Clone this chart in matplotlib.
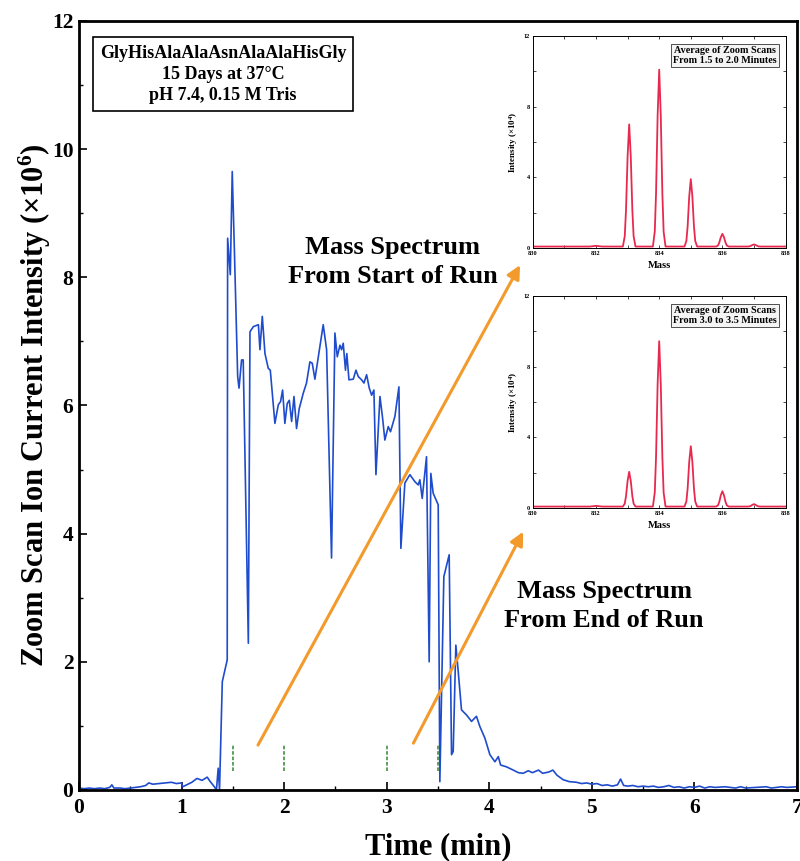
import matplotlib
matplotlib.use('Agg')
import matplotlib.pyplot as plt
from matplotlib.ticker import MultipleLocator

plt.rcParams['font.family'] = ['Liberation Serif', 'DejaVu Serif']
plt.rcParams['font.weight'] = 'bold'
plt.rcParams['mathtext.fontset'] = 'custom'
plt.rcParams['mathtext.rm'] = 'Liberation Serif:bold'
plt.rcParams['mathtext.bf'] = 'Liberation Serif:bold'
plt.rcParams['mathtext.default'] = 'bf'

# zoom scan total ion current vs time
time_min = [0.0, 0.05, 0.1, 0.15, 0.2, 0.25, 0.3, 0.32, 0.34, 0.4,
            0.45, 0.5, 0.55, 0.6, 0.65, 0.68, 0.72, 0.78, 0.85, 0.9,
            0.95, 1.0, 1.01, 1.05, 1.1, 1.15, 1.2, 1.25, 1.28, 1.32,
            1.34, 1.357, 1.37, 1.397, 1.445, 1.449, 1.475, 1.494, 1.514, 1.547,
            1.56, 1.585, 1.601, 1.651, 1.667, 1.7, 1.749, 1.764, 1.787, 1.813,
            1.845, 1.865, 1.91, 1.943, 1.965, 1.985, 2.007, 2.03, 2.05, 2.073,
            2.096, 2.121, 2.147, 2.186, 2.218, 2.251, 2.274, 2.3, 2.333, 2.381,
            2.414, 2.462, 2.495, 2.518, 2.544, 2.56, 2.576, 2.598, 2.611, 2.632,
            2.674, 2.7, 2.723, 2.755, 2.778, 2.804, 2.83, 2.853, 2.875, 2.895,
            2.934, 2.96, 2.982, 3.015, 3.037, 3.08, 3.119, 3.138, 3.177, 3.226,
            3.275, 3.307, 3.323, 3.346, 3.388, 3.414, 3.43, 3.453, 3.502, 3.518,
            3.557, 3.609, 3.632, 3.648, 3.674, 3.696, 3.729, 3.778, 3.827, 3.875,
            3.908, 3.957, 4.006, 4.055, 4.088, 4.11, 4.169, 4.234, 4.283, 4.33,
            4.38, 4.42, 4.48, 4.52, 4.58, 4.62, 4.66, 4.72, 4.78, 4.85,
            4.9, 4.95, 5.0, 5.05, 5.1, 5.15, 5.2, 5.25, 5.28, 5.31,
            5.35, 5.4, 5.45, 5.5, 5.55, 5.6, 5.65, 5.7, 5.75, 5.8,
            5.85, 5.9, 5.95, 6.0, 6.05, 6.1, 6.15, 6.2, 6.3, 6.4,
            6.45, 6.5, 6.6, 6.7, 6.75, 6.85, 6.9, 7.0]
ion_current = [0.03, 0.02, 0.03, 0.02, 0.03, 0.02, 0.04, 0.08, 0.03, 0.03,
               0.02, 0.03, 0.04, 0.05, 0.07, 0.11, 0.09, 0.1, 0.11, 0.12,
               0.1, 0.11, 0.05, 0.08, 0.12, 0.18, 0.15, 0.2, 0.13, 0.05,
               0.0, 0.34, 0.0, 1.69, 2.03, 8.61, 8.04, 9.65, 8.48, 6.45,
               6.27, 6.71, 6.71, 2.29, 7.15, 7.23, 7.26, 6.87, 7.39, 6.81,
               6.58, 6.55, 5.72, 6.01, 6.06, 6.24, 5.72, 6.03, 6.08, 5.75,
               6.14, 5.64, 5.95, 6.19, 6.35, 6.68, 6.66, 6.41, 6.76, 7.26,
               6.87, 3.62, 7.13, 6.76, 6.94, 6.87, 6.97, 6.55, 6.81, 6.40,
               6.41, 6.55, 6.45, 6.40, 6.35, 6.48, 6.27, 6.16, 6.24, 4.92,
               6.14, 5.80, 5.46, 5.67, 5.59, 5.83, 6.29, 3.77, 4.79, 4.92,
               4.81, 4.76, 4.84, 4.55, 5.20, 2.0, 4.94, 4.63, 4.45, 0.13,
               3.33, 3.67, 0.55, 0.6, 2.26, 1.87, 1.25, 1.17, 1.07, 1.15,
               0.99, 0.81, 0.55, 0.44, 0.52, 0.39, 0.36, 0.31, 0.27, 0.26,
               0.30, 0.27, 0.31, 0.26, 0.28, 0.31, 0.23, 0.16, 0.13, 0.12,
               0.1, 0.11, 0.09, 0.1, 0.07, 0.08, 0.06, 0.08, 0.17, 0.07,
               0.06, 0.07, 0.05, 0.06, 0.05, 0.06, 0.04, 0.05, 0.07, 0.04,
               0.05, 0.03, 0.05, 0.04, 0.06, 0.03, 0.05, 0.04, 0.05, 0.03,
               0.05, 0.03, 0.04, 0.05, 0.03, 0.05, 0.04, 0.05]

# scan-window markers (min)
window_marks = [1.5, 2.0, 3.0, 3.5]

# averaged zoom-scan spectra
mass = [830.0, 831.8, 832.0, 832.2,
        832.85, 832.91, 832.95, 833.0, 833.05, 833.1, 833.15, 833.19, 833.25,
        833.8, 833.86, 833.9, 833.95, 834.0, 834.05, 834.1, 834.14, 834.2,
        834.8, 834.86, 834.9, 834.95, 835.0, 835.05, 835.1, 835.14, 835.2,
        835.8, 835.86, 835.9, 835.95, 836.0, 836.05, 836.1, 836.14, 836.2,
        836.8, 836.86, 836.9, 836.95, 837.0, 837.05, 837.1, 837.14, 837.2,
        838.0]
spec_start = [0.08, 0.08, 0.12, 0.08,
              0.08, 0.67, 2.16, 5.20, 7.0, 5.20, 2.16, 0.67, 0.08,
              0.08, 0.93, 3.09, 7.49, 10.1, 7.49, 3.09, 0.93, 0.08,
              0.08, 0.40, 1.23, 2.91, 3.9, 2.91, 1.23, 0.40, 0.08,
              0.08, 0.14, 0.30, 0.61, 0.8, 0.61, 0.30, 0.14, 0.08,
              0.08, 0.09, 0.12, 0.17, 0.2, 0.17, 0.12, 0.09, 0.08,
              0.08]
spec_end = [0.08, 0.08, 0.12, 0.08,
            0.08, 0.25, 0.67, 1.54, 2.05, 1.54, 0.67, 0.25, 0.08,
            0.08, 0.88, 2.89, 7.01, 9.45, 7.01, 2.89, 0.88, 0.08,
            0.08, 0.37, 1.11, 2.61, 3.5, 2.61, 1.11, 0.37, 0.08,
            0.08, 0.15, 0.34, 0.72, 0.95, 0.72, 0.34, 0.15, 0.08,
            0.08, 0.09, 0.12, 0.18, 0.22, 0.18, 0.12, 0.09, 0.08,
            0.08]

fig = plt.figure(figsize=(8.0, 8.61), dpi=100)
ax = fig.add_axes([0.09875, 0.0825, 0.8975, 0.8932])

ax.plot(time_min, ion_current, color='#1f4ccc', lw=1.2)
ax.vlines(window_marks, 0.3, 0.7, colors='#4f9a4f', lw=1.3, linestyles=(0, (2, 1)))

ax.set_xlim(0, 7)
ax.set_ylim(0, 12)
ax.xaxis.set_major_locator(MultipleLocator(1))
ax.xaxis.set_minor_locator(MultipleLocator(0.5))
ax.yaxis.set_major_locator(MultipleLocator(2))
ax.yaxis.set_minor_locator(MultipleLocator(1))
ax.tick_params(which='major', direction='in', length=6, width=1.2, labelsize=15.5, pad=4)
ax.tick_params(axis='x', which='major', pad=6)
ax.tick_params(which='minor', direction='in', length=3, width=1.0)
for s in ax.spines.values():
    s.set_linewidth(2.0)

ax.set_xlabel('Time (min)', fontsize=22, fontweight='bold', labelpad=10)
ax.set_ylabel('Zoom Scan Ion Current Intensity (×10$^{6}$)', fontsize=22,
              fontweight='bold')
ax.yaxis.set_label_coords(-0.036, 0.5)

ax.text(1.404, 11.17, 'GlyHisAlaAlaAsnAlaAlaHisGly\n15 Days at 37°C\npH 7.4, 0.15 M Tris',
        ha='center', va='center', fontsize=13, fontweight='bold', linespacing=1.3,
        bbox=dict(boxstyle='square,pad=0.4', fc='white', ec='black', lw=1.2))

ax.text(3.06, 8.24, 'Mass Spectrum\nFrom Start of Run', ha='center', va='center',
        fontsize=19, fontweight='bold', linespacing=1.35)
ax.text(5.12, 2.87, 'Mass Spectrum\nFrom End of Run', ha='center', va='center',
        fontsize=19, fontweight='bold', linespacing=1.35)

arrow = dict(arrowstyle='-|>', color='#f39a2c', lw=2.2, mutation_scale=20,
             shrinkA=0, shrinkB=0)
ax.annotate('', xy=(4.30, 8.19), xytext=(1.745, 0.70), arrowprops=arrow)
ax.annotate('', xy=(4.33, 4.03), xytext=(3.26, 0.73), arrowprops=arrow)


def spectrum_inset(rect, values, caption):
    ins = fig.add_axes(rect)
    ins.plot(mass, values, color='#e8294f', lw=1.3)
    ins.set_xlim(830, 838)
    ins.set_ylim(0, 12)
    ins.xaxis.set_major_locator(MultipleLocator(2))
    ins.xaxis.set_minor_locator(MultipleLocator(1))
    ins.yaxis.set_major_locator(MultipleLocator(4))
    ins.yaxis.set_minor_locator(MultipleLocator(2))
    ins.tick_params(which='both', direction='in', top=True, right=True,
                    length=2, width=0.5, labelsize=4.5, pad=2)
    for s in ins.spines.values():
        s.set_linewidth(0.7)
    ins.set_xlabel('Mass', fontsize=7.5, fontweight='bold', labelpad=4)
    ins.set_ylabel('Intensity (×10$^{4}$)', fontsize=6.5, fontweight='bold', labelpad=3)
    ins.text(0.965, 0.955, caption, transform=ins.transAxes, ha='right', va='top',
             multialignment='center', fontsize=7.3, fontweight='bold', linespacing=1.25,
             bbox=dict(boxstyle='square,pad=0.2', fc='#f4f4f4', ec='#333333', lw=0.6))
    return ins


spectrum_inset([0.666, 0.712, 0.316, 0.246], spec_start,
               'Average of Zoom Scans\nFrom 1.5 to 2.0 Minutes')
spectrum_inset([0.666, 0.41, 0.316, 0.246], spec_end,
               'Average of Zoom Scans\nFrom 3.0 to 3.5 Minutes')

fig.savefig('out.png', dpi=100)
